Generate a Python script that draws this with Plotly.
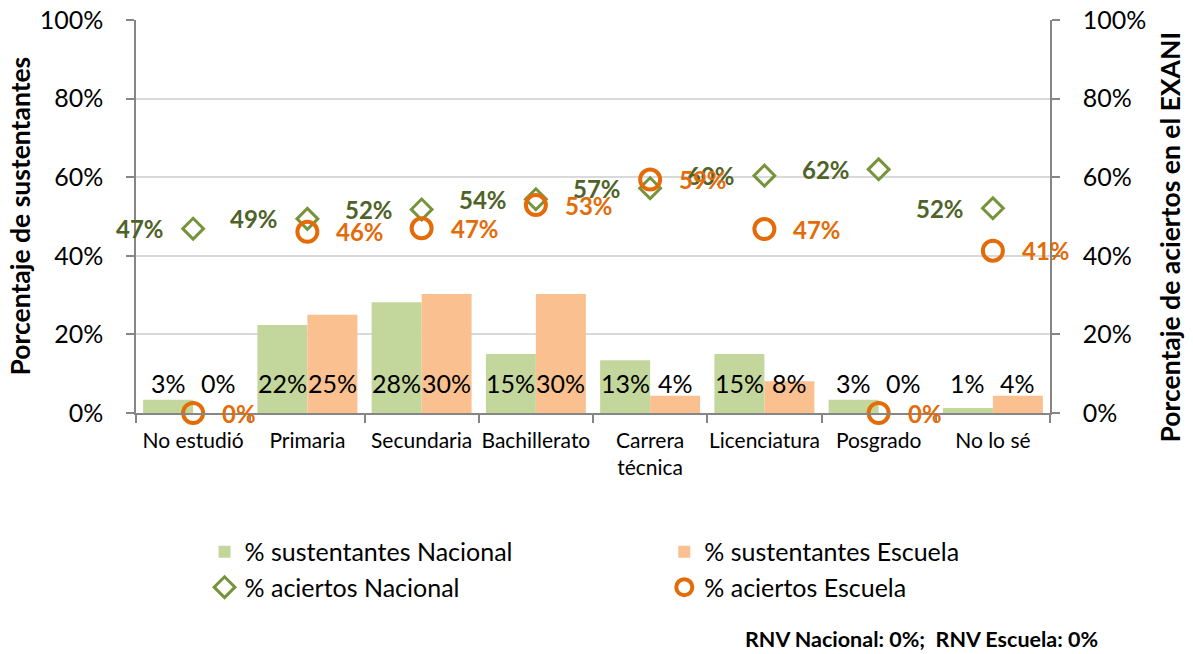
import plotly.graph_objects as go

categories = ["No estudió", "Primaria", "Secundaria", "Bachillerato",
              "Carrera técnica", "Licenciatura", "Posgrado", "No lo sé"]
tick_labels = ["No estudió", "Primaria", "Secundaria", "Bachillerato",
               "Carrera<br>técnica", "Licenciatura", "Posgrado", "No lo sé"]
sust_nacional = [3.4, 22.4, 28.2, 15.0, 13.4, 15.0, 3.4, 1.3]
sust_escuela = [0.0, 25.0, 30.3, 30.3, 4.4, 8.1, 0.0, 4.4]
aciertos_nacional = [46.9, 49.4, 51.8, 54.4, 57.2, 60.4, 62.0, 52.1]
aciertos_escuela = [0.0, 46.1, 47.0, 52.9, 59.4, 46.8, 0.0, 41.3]
y_ticks = [0, 20, 40, 60, 80, 100]
y_tick_text = ["0%", "20%", "40%", "60%", "80%", "100%"]

FONT = "Lato"
GREEN_BAR = "#C3D69B"
ORANGE_BAR = "#FAC090"
GREEN_MK = "#77933C"
GREEN_TXT = "#4F6228"
ORANGE = "#E36C09"
AXIS = "#868686"

fig = go.Figure()
fig.add_trace(go.Bar(x=categories, y=sust_nacional, name="% sustentantes Nacional",
                     legend="legend",
                     marker=dict(color=GREEN_BAR, line=dict(width=0))))
fig.add_trace(go.Bar(x=categories, y=sust_escuela, name="% sustentantes Escuela",
                     legend="legend2",
                     marker=dict(color=ORANGE_BAR, line=dict(width=0))))
fig.add_trace(go.Scatter(x=categories, y=aciertos_nacional, yaxis="y2", mode="markers",
                         name="% aciertos Nacional", cliponaxis=False, legend="legend",
                         marker=dict(symbol="diamond-open", size=16, color=GREEN_MK,
                                     line=dict(width=3, color=GREEN_MK))))
fig.add_trace(go.Scatter(x=categories, y=aciertos_escuela, yaxis="y2", mode="markers",
                         name="% aciertos Escuela", cliponaxis=False, legend="legend2",
                         marker=dict(symbol="circle-open", size=20, color=ORANGE,
                                     line=dict(width=4, color=ORANGE))))

annotations = []
for c, v in zip(categories, sust_nacional):
    annotations.append(dict(x=c, y=7.6, xref="x", yref="y", text=f"{round(v)}%",
                            showarrow=False, xshift=-25, yanchor="middle",
                            font=dict(family=FONT, size=25, color="black")))
for c, v in zip(categories, sust_escuela):
    annotations.append(dict(x=c, y=7.6, xref="x", yref="y", text=f"{round(v)}%",
                            showarrow=False, xshift=25, yanchor="middle",
                            font=dict(family=FONT, size=25, color="black")))
for c, v in zip(categories, aciertos_nacional):
    annotations.append(dict(x=c, y=v, xref="x", yref="y2", text=f"<b>{round(v)}%</b>",
                            showarrow=False, xanchor="right", xshift=-27, yanchor="middle",
                            font=dict(family=FONT, size=24, color=GREEN_TXT)))
for c, v in zip(categories, aciertos_escuela):
    annotations.append(dict(x=c, y=v, xref="x", yref="y2", text=f"<b>{round(v)}%</b>",
                            showarrow=False, xanchor="left", xshift=27, yanchor="middle",
                            font=dict(family=FONT, size=24, color=ORANGE)))

annotations.append(dict(xref="paper", yref="paper", x=0, y=0.5, xshift=-117,
                        text="<b>Porcentaje de sustentantes</b>", textangle=-90,
                        showarrow=False, xanchor="center", yanchor="middle",
                        font=dict(family=FONT, size=26.5, color="black")))
annotations.append(dict(xref="paper", yref="paper", x=1, y=0.4466, xshift=120,
                        text="<b>Porcentaje de aciertos en el EXANI</b>", textangle=-90,
                        showarrow=False, xanchor="center", yanchor="middle",
                        font=dict(family=FONT, size=26.5, color="black")))
annotations.append(dict(xref="paper", yref="paper", x=1.0547, y=-0.575,
                        text="<b>RNV Nacional: 0%;&nbsp; RNV Escuela: 0%</b>",
                        showarrow=False, xanchor="right", yanchor="middle",
                        font=dict(family=FONT, size=21.5, color="black")))

legend_common = dict(orientation="v", yanchor="top", xanchor="left", traceorder="normal",
                     font=dict(family=FONT, size=25, color="black"),
                     bgcolor="rgba(0,0,0,0)", borderwidth=0, itemwidth=30)

fig.update_layout(
    width=1193, height=654,
    margin=dict(l=136, r=143, t=20, b=241, autoexpand=False),
    paper_bgcolor="white", plot_bgcolor="white",
    barmode="group", bargap=0.125, bargroupgap=0,
    font=dict(family=FONT, color="black"),
    showlegend=True,
    legend=dict(x=0.075, y=-0.295, **legend_common),
    legend2=dict(x=0.578, y=-0.295, **legend_common),
    annotations=annotations,
    xaxis=dict(type="category", categoryorder="array", categoryarray=categories,
               tickvals=categories, ticktext=tick_labels, tickson="boundaries",
               tickangle=0,
               showline=True, linecolor=AXIS, linewidth=1.5,
               ticks="outside", ticklen=8, tickcolor=AXIS, tickwidth=1.5,
               tickfont=dict(family=FONT, size=21, color="black"),
               ticklabelstandoff=8, showgrid=False, range=[-0.5, 7.5]),
    yaxis=dict(range=[0, 100], tickvals=y_ticks, ticktext=y_tick_text,
               showline=True, linecolor=AXIS, linewidth=1.5,
               ticks="outside", ticklen=8, tickcolor=AXIS, tickwidth=1.5,
               tickfont=dict(family=FONT, size=25, color="black"),
               ticklabelstandoff=18,
               showgrid=True, gridcolor="#D9D9D9", gridwidth=1.5, zeroline=False),
    yaxis2=dict(range=[0, 100], tickvals=y_ticks, ticktext=y_tick_text, overlaying="y",
                side="right", showline=True, linecolor=AXIS, linewidth=1.5,
                ticks="outside", ticklen=8, tickcolor=AXIS, tickwidth=1.5,
                tickfont=dict(family=FONT, size=25, color="black"),
                ticklabelstandoff=18, showgrid=False, zeroline=False),
)

# remove the browser's default 8px body margin so the figure fills the window
fig.write_html("out.html", config={"displayModeBar": False},
               post_script="document.body.style.margin='0';")
